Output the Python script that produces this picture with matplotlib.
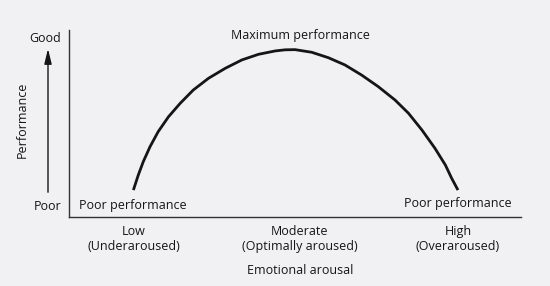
import matplotlib
matplotlib.use("Agg")
import matplotlib.pyplot as plt

# ---- data ----
arousal = [14.3, 15.4, 16.5, 18.0, 19.8, 22.1, 24.7, 27.6, 31.0, 34.7,
           38.4, 42.1, 45.8, 48.0, 50.2, 53.9, 57.6, 61.3, 65.0, 68.7,
           72.4, 75.4, 78.4, 81.3, 83.6, 85.0, 86.4]
performance = [14.4, 22.5, 29.6, 37.6, 45.6, 53.6, 60.8, 67.9, 74.2, 79.5,
               84.0, 87.0, 88.8, 89.4, 89.5, 88.1, 85.2, 81.3, 75.9, 69.7,
               62.6, 55.5, 46.5, 36.7, 27.8, 20.7, 14.4]
level_pos = [14.4, 51.3, 86.4]
level_labels = ["Low\n(Underaroused)", "Moderate\n(Optimally aroused)", "High\n(Overaroused)"]
perf_pos = [6.4, 96.3]
perf_labels = ["Poor", "Good"]

plt.rcParams['font.family'] = ['Open Sans', 'DejaVu Sans']
BG = '#f1f1f3'
INK = '#151515'
FS = 9.0
W, H = 550, 286
fig = plt.figure(figsize=(W / 100, H / 100), dpi=100, facecolor=BG)

def fx(x):
    return x / W

def fy(y):
    return 1 - y / H

L, R, T, B = 69, 521, 30, 217
ax = fig.add_axes([fx(L), fy(B), fx(R) - fx(L), fy(T) - fy(B)])
ax.set_facecolor(BG)
ax.set_xlim(0, 100.4)
ax.set_ylim(0, 100)
for s in ['top', 'right']:
    ax.spines[s].set_visible(False)
for s in ['left', 'bottom']:
    ax.spines[s].set_color('#333333')
    ax.spines[s].set_linewidth(1.0)

ax.plot(arousal, performance, color=INK, lw=2.0, solid_capstyle='butt',
        solid_joinstyle='round')

# x level labels as ticks
ax.set_xticks(level_pos)
ax.set_xticklabels(level_labels, fontsize=FS, color=INK, linespacing=1.2)
ax.tick_params(axis='x', length=0, pad=6)
ax.set_yticks(perf_pos)
ax.set_yticklabels(perf_labels, fontsize=FS, color=INK)
ax.tick_params(axis='y', length=0, pad=5.5)

# vertical arrow for Performance
ax.annotate('', xy=(fx(48), fy(46)), xycoords='figure fraction',
            xytext=(fx(48), fy(195)), textcoords='figure fraction',
            arrowprops=dict(arrowstyle='-|>,head_length=0.9,head_width=0.22',
                            color=INK, lw=1.0))

fig.text(fx(22), fy(120), 'Performance', rotation=90, ha='center', va='center',
         fontsize=FS, color=INK)
fig.text(fx(300), fy(35), 'Maximum performance', ha='center', va='center',
         fontsize=FS, color=INK)
fig.text(fx(133), fy(205), 'Poor performance', ha='center', va='center',
         fontsize=FS, color=INK)
fig.text(fx(458), fy(203), 'Poor performance', ha='center', va='center',
         fontsize=FS, color=INK)
fig.text(fx(300), fy(270), 'Emotional arousal', ha='center', va='center',
         fontsize=FS, color=INK)

fig.savefig('out.png', dpi=100, facecolor=BG)
